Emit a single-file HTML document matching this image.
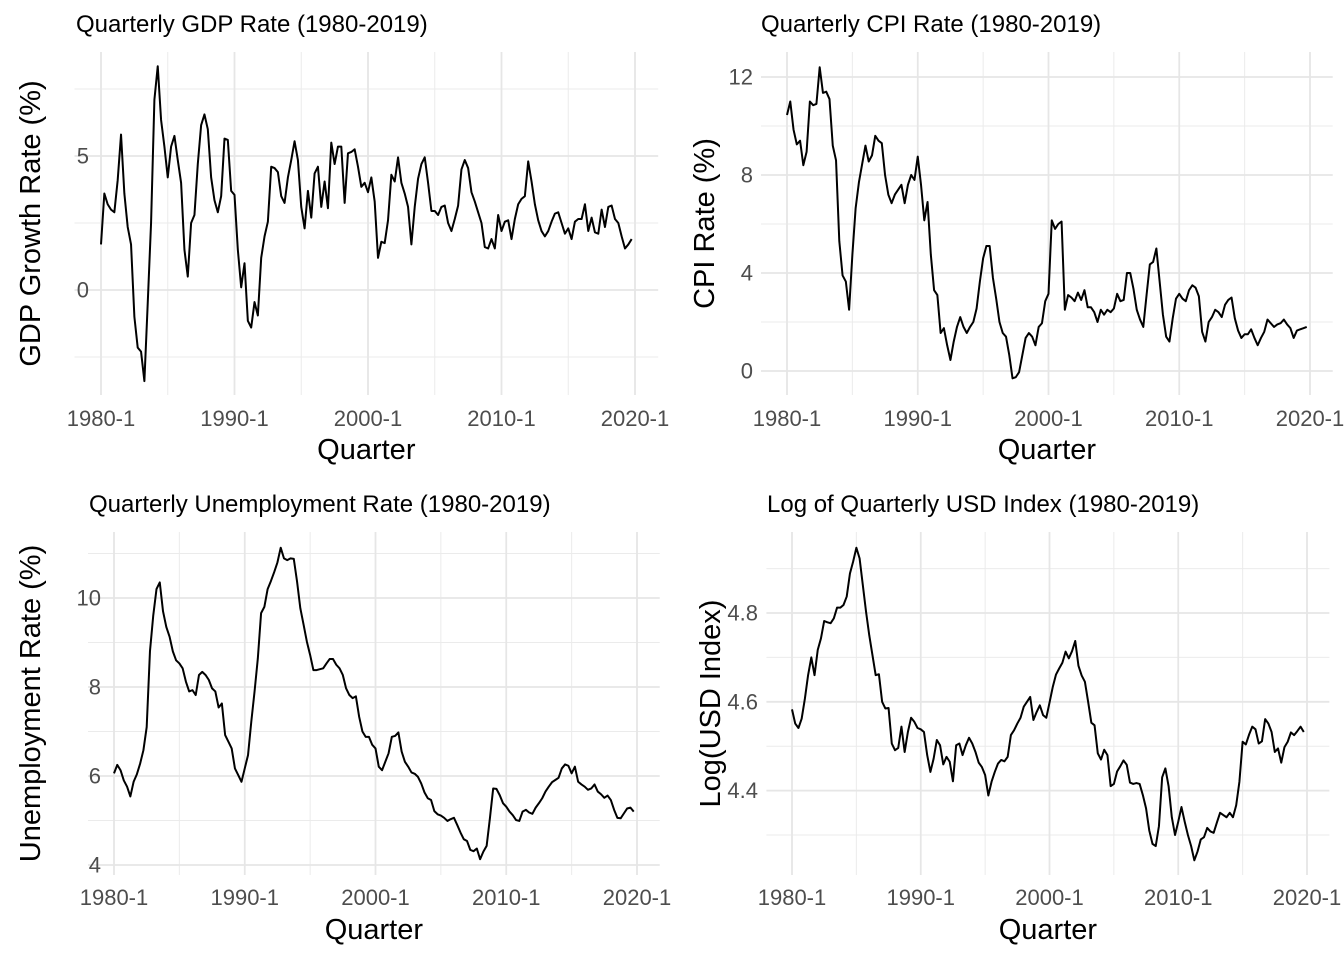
<!DOCTYPE html>
<html>
<head>
<meta charset="utf-8">
<style>
html,body{margin:0;padding:0;background:#fff;}
svg{display:block;font-family:"Liberation Sans",Arial,sans-serif;}
.tick{fill:#4D4D4D;font-size:22px;}
.atitle{fill:#000;font-size:29px;}
.ptitle{fill:#000;font-size:24px;}
</style>
</head>
<body>
<svg id="chart" width="1344" height="960" viewBox="0 0 1344 960"></svg>
<script>
// ---------- data ----------
const xTickLabels = ["1980-1","1990-1","2000-1","2010-1","2020-1"];
const xTickIndex = [0,40,80,120,160];

const gdpRate = [1.7,3.6,3.2,3.0,2.9,4.1,5.8,3.6,2.35,1.7,-1.0,-2.15,-2.3,-3.4,-0.5,2.5,7.1,8.35,6.35,5.35,
4.2,5.35,5.75,4.85,4.0,1.5,0.5,2.5,2.8,4.7,6.15,6.55,6.0,4.2,3.35,2.9,3.5,5.65,5.6,3.7,
3.55,1.5,0.1,1.0,-1.15,-1.4,-0.45,-0.95,1.2,2.0,2.55,4.6,4.55,4.4,3.5,3.25,4.2,4.85,5.55,4.85,
3.1,2.3,3.7,2.7,4.35,4.6,3.1,4.05,3.05,5.5,4.7,5.35,5.35,3.25,5.1,5.15,5.25,4.6,3.85,4.0,
3.65,4.2,3.3,1.2,1.8,1.75,2.6,4.3,4.05,4.95,4.0,3.6,3.1,1.7,3.1,4.15,4.7,4.95,4.0,2.95,
2.95,2.8,3.1,3.15,2.5,2.2,2.65,3.15,4.5,4.85,4.55,3.65,3.3,2.9,2.5,1.6,1.55,1.9,1.55,2.8,
2.2,2.55,2.6,1.9,2.65,3.2,3.4,3.5,4.8,4.05,3.2,2.6,2.2,2.0,2.2,2.55,2.85,2.9,2.5,2.1,
2.3,1.9,2.55,2.65,2.65,3.2,2.2,2.7,2.15,2.1,3.0,2.35,3.1,3.15,2.65,2.5,2.0,1.55,1.7,1.9];

const cpiRate = [10.45,11.0,9.85,9.25,9.4,8.4,8.95,11.0,10.85,10.9,12.4,11.35,11.4,11.1,9.2,8.6,5.3,3.9,3.65,2.5,
4.75,6.65,7.7,8.45,9.2,8.55,8.8,9.6,9.4,9.3,8.0,7.2,6.85,7.2,7.4,7.6,6.85,7.6,8.0,7.8,
8.75,7.6,6.15,6.9,4.75,3.3,3.1,1.55,1.75,1.05,0.45,1.2,1.8,2.2,1.8,1.55,1.8,2.0,2.55,3.65,
4.6,5.1,5.1,3.8,2.95,2.0,1.55,1.4,0.65,-0.3,-0.25,-0.05,0.65,1.35,1.55,1.4,1.05,1.8,1.95,2.85,
3.15,6.15,5.8,6.0,6.1,2.5,3.1,3.0,2.85,3.2,2.9,3.3,2.6,2.6,2.4,2.0,2.5,2.3,2.5,2.4,
2.55,3.15,2.85,2.9,4.0,4.0,3.35,2.5,2.1,1.8,3.1,4.35,4.45,5.0,3.65,2.3,1.4,1.2,2.15,2.95,
3.15,2.95,2.85,3.3,3.5,3.4,3.05,1.6,1.2,2.0,2.2,2.5,2.4,2.2,2.7,2.9,3.0,2.15,1.65,1.35,
1.5,1.5,1.7,1.35,1.05,1.35,1.6,2.1,1.95,1.8,1.9,1.95,2.1,1.9,1.75,1.35,1.65,1.7,1.75,1.8];

const unempRate = [6.06,6.25,6.13,5.9,5.76,5.54,5.87,6.04,6.28,6.58,7.1,8.8,9.6,10.2,10.35,9.7,9.35,9.13,8.8,8.6,
8.53,8.42,8.12,7.9,7.93,7.82,8.27,8.34,8.27,8.16,7.97,7.9,7.54,7.63,6.92,6.77,6.62,6.17,6.02,5.87,
6.17,6.47,7.22,7.9,8.64,9.66,9.8,10.2,10.38,10.58,10.8,11.13,10.89,10.85,10.89,10.88,10.37,9.77,9.4,9.02,
8.72,8.38,8.38,8.4,8.42,8.53,8.63,8.63,8.5,8.42,8.27,7.97,7.82,7.75,7.79,7.33,7.0,6.88,6.88,6.7,
6.62,6.21,6.13,6.32,6.51,6.88,6.9,6.98,6.55,6.32,6.21,6.08,6.05,5.98,5.83,5.63,5.5,5.46,5.21,5.14,
5.11,5.06,4.99,5.03,5.06,4.9,4.73,4.58,4.54,4.34,4.31,4.37,4.13,4.3,4.43,5.05,5.72,5.71,5.57,5.39,
5.31,5.2,5.12,5.01,4.99,5.2,5.24,5.18,5.15,5.29,5.39,5.5,5.65,5.76,5.86,5.91,5.96,6.17,6.26,6.23,
6.06,6.21,5.87,5.81,5.76,5.69,5.72,5.81,5.65,5.59,5.51,5.56,5.46,5.24,5.06,5.05,5.16,5.27,5.29,5.2];

const usdLog = [4.583,4.551,4.541,4.562,4.607,4.66,4.7,4.66,4.717,4.743,4.782,4.779,4.777,4.788,4.812,4.812,4.818,4.837,4.889,4.916,
4.947,4.923,4.863,4.803,4.75,4.705,4.66,4.662,4.6,4.585,4.586,4.506,4.491,4.496,4.544,4.487,4.532,4.564,4.555,4.541,
4.538,4.532,4.48,4.442,4.472,4.514,4.502,4.459,4.476,4.465,4.421,4.502,4.506,4.48,4.502,4.519,4.506,4.487,4.463,4.453,
4.435,4.389,4.42,4.442,4.461,4.469,4.466,4.476,4.525,4.536,4.551,4.564,4.589,4.6,4.611,4.559,4.577,4.592,4.57,4.564,
4.598,4.633,4.661,4.675,4.688,4.713,4.698,4.714,4.737,4.681,4.659,4.645,4.6,4.553,4.547,4.484,4.47,4.492,4.48,4.41,
4.415,4.443,4.455,4.468,4.458,4.418,4.415,4.417,4.415,4.39,4.36,4.31,4.28,4.275,4.32,4.43,4.45,4.41,4.34,4.3,
4.33,4.363,4.33,4.3,4.275,4.243,4.263,4.29,4.295,4.316,4.308,4.305,4.328,4.35,4.345,4.34,4.35,4.34,4.367,4.42,
4.51,4.504,4.526,4.544,4.538,4.506,4.511,4.561,4.551,4.532,4.487,4.495,4.463,4.498,4.51,4.531,4.525,4.534,4.544,4.532];

const gdpYTicks = [0,5];
const gdpYMinor = [-2.5,2.5,7.5];
const cpiYTicks = [0,4,8,12];
const cpiYMinor = [2,6,10];
const unempYTicks = [4,6,8,10];
const unempYMinor = [5,7,9,11];
const usdYTicks = [4.4,4.6,4.8];
const usdYMinor = [4.3,4.5,4.7,4.9];

// ---------- drawing ----------
const NS = "http://www.w3.org/2000/svg";
const svg = document.getElementById("chart");
function mk(tag, attrs, parent){
  const e = document.createElementNS(NS, tag);
  for (const k in attrs) e.setAttribute(k, attrs[k]);
  (parent||svg).appendChild(e);
  return e;
}

function drawPanel(cfg){
  const g = mk("g", {});
  
  
  const n = cfg.values.length;
  const xs = i => cfg.x0 + (cfg.x160 - cfg.x0) * i / 160;
  const pad = 0.05 * (n - 1);
  const left = xs(-pad), right = xs(n - 1 + pad);
  const ys = v => cfg.yA + (v - cfg.vA) * (cfg.yB - cfg.yA) / (cfg.vB - cfg.vA);

  const grid = mk("g", {}, g);
  
  
  cfg.yMinor.forEach(v => {
    const y = ys(v);
    if (y < cfg.top || y > cfg.bottom) return;
    mk("line", {x1:left, x2:right, y1:y, y2:y, stroke:"#EBEBEB", "stroke-width":1}, grid);
  });
  [20,60,100,140].forEach(i => {
    const x = xs(i);
    mk("line", {x1:x, x2:x, y1:cfg.top, y2:cfg.bottom, stroke:"#EBEBEB", "stroke-width":1}, grid);
  });
  cfg.yTicks.forEach(v => {
    const y = ys(v);
    mk("line", {x1:left, x2:right, y1:y, y2:y, stroke:"#E6E6E6", "stroke-width":1.8}, grid);
    const t = mk("text", {x:cfg.yLabelRight, y:y + 7.5, "text-anchor":"end", class:"tick"}, g);
    t.textContent = String(v);
    
    
  });
  xTickIndex.forEach((i, k) => {
    const x = xs(i);
    mk("line", {x1:x, x2:x, y1:cfg.top, y2:cfg.bottom, stroke:"#E6E6E6", "stroke-width":1.8}, grid);
    const t = mk("text", {x:x, y:cfg.xTickBase, "text-anchor":"middle", class:"tick"}, g);
    t.textContent = xTickLabels[k];
    
    
  });
  let d = "";
  cfg.values.forEach((v, i) => { d += (i ? "L" : "M") + xs(i).toFixed(2) + "," + ys(v).toFixed(2); });
  const p = mk("path", {d:d, fill:"none", stroke:"#000", "stroke-width":2, "stroke-linejoin":"round"}, g);
  
  

  const tt = mk("text", {x:cfg.titleX, y:cfg.titleBase, class:"ptitle"}, g);
  tt.textContent = cfg.title;
  
  

  const xt = mk("text", {x:(left + right) / 2, y:cfg.xTitleBase, "text-anchor":"middle", class:"atitle"}, g);
  xt.textContent = "Quarter";
  
  

  const cy = (cfg.top + cfg.bottom) / 2;
  const yt = mk("text", {x:0, y:0, "text-anchor":"middle", class:"atitle",
    transform:"translate(" + cfg.yTitleX + "," + cy + ") rotate(-90)"}, g);
  yt.textContent = cfg.yTitle;
  
  
}

drawPanel({name:"gdp", values:gdpRate, x0:101, x160:635, vA:0, yA:290, vB:5, yB:156,
  top:52, bottom:395, yTicks:gdpYTicks, yMinor:gdpYMinor, yLabelRight:89,
  xTickBase:426, xTitleBase:459, title:"Quarterly GDP Rate (1980-2019)", titleX:76, titleBase:32,
  yTitle:"GDP Growth Rate (%)", yTitleX:40});

drawPanel({name:"cpi", values:cpiRate, x0:787, x160:1310, vA:0, yA:371, vB:12, yB:77,
  top:52, bottom:395, yTicks:cpiYTicks, yMinor:cpiYMinor, yLabelRight:753,
  xTickBase:426, xTitleBase:459, title:"Quarterly CPI Rate (1980-2019)", titleX:761, titleBase:32,
  yTitle:"CPI Rate (%)", yTitleX:714});

drawPanel({name:"unemployment", values:unempRate, x0:114, x160:637, vA:4, yA:865, vB:10, yB:598,
  top:532, bottom:875, yTicks:unempYTicks, yMinor:unempYMinor, yLabelRight:101,
  xTickBase:905, xTitleBase:939, title:"Quarterly Unemployment Rate (1980-2019)", titleX:89, titleBase:512,
  yTitle:"Unemployment Rate (%)", yTitleX:40});

drawPanel({name:"usd", values:usdLog, x0:792, x160:1307, vA:4.4, yA:790.6, vB:4.8, yB:613,
  top:532, bottom:875, yTicks:usdYTicks, yMinor:usdYMinor, yLabelRight:758,
  xTickBase:905, xTitleBase:939, title:"Log of Quarterly USD Index (1980-2019)", titleX:767, titleBase:512,
  yTitle:"Log(USD Index)", yTitleX:720});
</script>
</body>
</html>
